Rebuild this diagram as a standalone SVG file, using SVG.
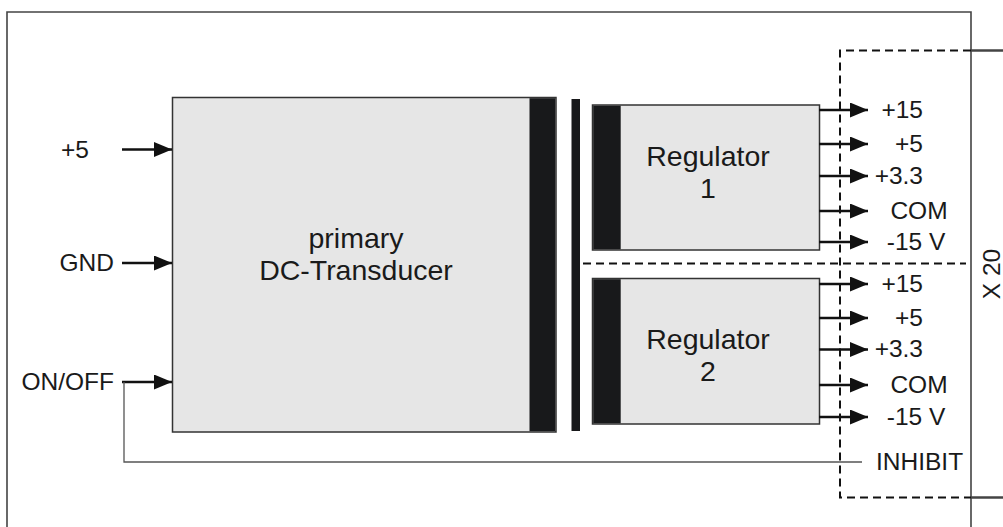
<svg xmlns="http://www.w3.org/2000/svg" width="1003" height="527" viewBox="0 0 1003 527">
<style>
.lbl{font-family:"Liberation Sans",Arial,sans-serif;font-size:24.5px;fill:#1a1a1a}
.big{font-family:"Liberation Sans",Arial,sans-serif;font-size:28.5px;fill:#1a1a1a}
.box{fill:#e6e6e6;stroke:#333;stroke-width:1.5}
.blk{fill:#18191b}
.wire{stroke:#111;stroke-width:2.4;fill:none}
.thin{stroke:#555;stroke-width:1.3;fill:none}
.dash{stroke:#111;stroke-width:2;fill:none;stroke-dasharray:8,5}
</style>
<defs>
<marker id="ah" markerUnits="userSpaceOnUse" markerWidth="19" markerHeight="16" refX="18" refY="7.5" orient="auto">
<path d="M0,0 L18,7.5 L0,15 Z" fill="#111"/>
</marker>
</defs>
<g id="frame">
<path d="M7,527 V12 H971 V527" stroke="#444" stroke-width="1.6" fill="none"/>
<line x1="971" y1="50.5" x2="1003" y2="50.5" stroke="#444" stroke-width="2.5"/>
<line x1="971" y1="497.5" x2="1003" y2="497.5" stroke="#444" stroke-width="2.5"/>
</g>
<g id="connector-box">
<path class="dash" d="M971,50.5 H840 V497.5 H971"/>
<line class="dash" x1="583" y1="263.5" x2="966" y2="263.5"/>
</g>
<g id="primary">
<rect class="box" x="172.5" y="97.5" width="383.5" height="334.5"/>
<rect class="blk" x="529.5" y="98.2" width="25.8" height="333"/>
<text class="big" x="356" y="248" text-anchor="middle">primary</text>
<text class="big" x="356" y="280" text-anchor="middle">DC-Transducer</text>
</g>
<g id="transformer-core">
<rect class="blk" x="571.5" y="99" width="8.5" height="332"/>
</g>
<g id="regulator1">
<rect class="box" x="592.5" y="105" width="227" height="145"/>
<rect class="blk" x="593.2" y="105.7" width="27.5" height="143.6"/>
<text class="big" x="708" y="166" text-anchor="middle">Regulator</text>
<text class="big" x="708" y="198" text-anchor="middle">1</text>
</g>
<g id="regulator2">
<rect class="box" x="592.5" y="278.5" width="227" height="145.5"/>
<rect class="blk" x="593.2" y="279.2" width="27.5" height="144.1"/>
<text class="big" x="708" y="349" text-anchor="middle">Regulator</text>
<text class="big" x="708" y="381" text-anchor="middle">2</text>
</g>
<g id="connectors">
<line class="wire" x1="122" y1="149.5" x2="172" y2="149.5" marker-end="url(#ah)"/>
<line class="wire" x1="122" y1="263" x2="172" y2="263" marker-end="url(#ah)"/>
<line class="wire" x1="122" y1="382" x2="172" y2="382" marker-end="url(#ah)"/>
<path class="thin" d="M124,382 V462 H862"/>
<line class="wire" x1="819" y1="110" x2="868" y2="110" marker-end="url(#ah)"/>
<line class="wire" x1="819" y1="144" x2="868" y2="144" marker-end="url(#ah)"/>
<line class="wire" x1="819" y1="176" x2="868" y2="176" marker-end="url(#ah)"/>
<line class="wire" x1="819" y1="211" x2="868" y2="211" marker-end="url(#ah)"/>
<line class="wire" x1="819" y1="242" x2="868" y2="242" marker-end="url(#ah)"/>
<line class="wire" x1="819" y1="284" x2="868" y2="284" marker-end="url(#ah)"/>
<line class="wire" x1="819" y1="318" x2="868" y2="318" marker-end="url(#ah)"/>
<line class="wire" x1="819" y1="349.5" x2="868" y2="349.5" marker-end="url(#ah)"/>
<line class="wire" x1="819" y1="385" x2="868" y2="385" marker-end="url(#ah)"/>
<line class="wire" x1="819" y1="417" x2="868" y2="417" marker-end="url(#ah)"/>
</g>
<g id="input-labels">
<text class="lbl" x="89" y="158" text-anchor="end">+5</text>
<text class="lbl" x="114" y="271" text-anchor="end">GND</text>
<text class="lbl" x="114" y="390" text-anchor="end">ON/OFF</text>
</g>
<g id="output-labels">
<text class="lbl" x="923" y="118" text-anchor="end">+15</text>
<text class="lbl" x="923" y="152" text-anchor="end">+5</text>
<text class="lbl" x="923" y="184" text-anchor="end">+3.3</text>
<text class="lbl" x="919" y="219" text-anchor="middle">COM</text>
<text class="lbl" x="916" y="250" text-anchor="middle">-15 V</text>
<text class="lbl" x="923" y="292" text-anchor="end">+15</text>
<text class="lbl" x="923" y="326" text-anchor="end">+5</text>
<text class="lbl" x="923" y="357" text-anchor="end">+3.3</text>
<text class="lbl" x="919" y="393" text-anchor="middle">COM</text>
<text class="lbl" x="916" y="425" text-anchor="middle">-15 V</text>
<text class="lbl" x="876" y="470">INHIBIT</text>
<text class="lbl" transform="translate(1000,274) rotate(-90)" text-anchor="middle">X 20</text>
</g>
</svg>
